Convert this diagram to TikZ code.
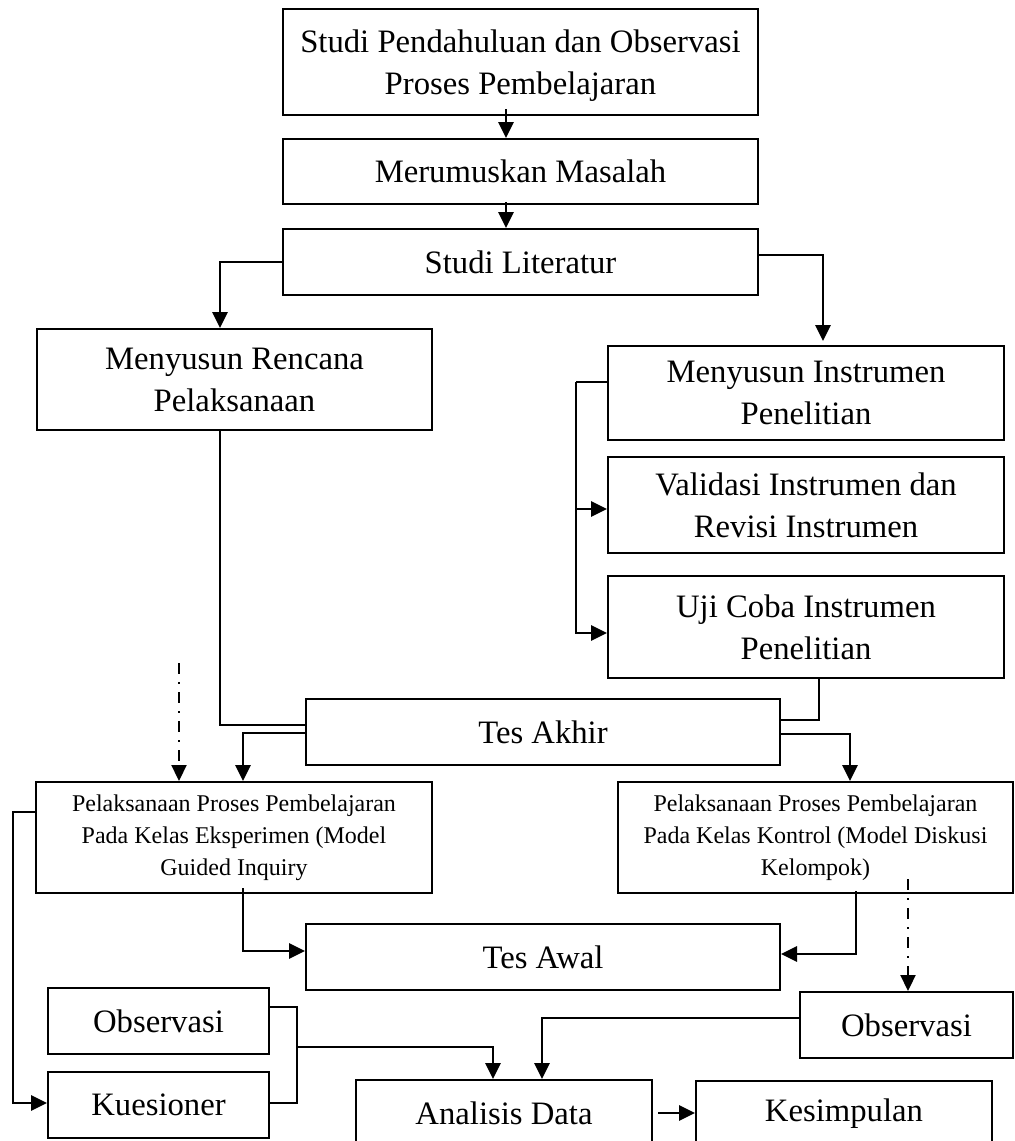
\documentclass[tikz,border=0pt]{standalone}
\usepackage{fontspec}
\setmainfont{Liberation Serif}
\usetikzlibrary{arrows.meta}
\begin{document}
\begin{tikzpicture}[x=1pt,y=-1pt,
  box/.style={draw,line width=2pt,inner sep=0pt,align=center,font=\fontsize{32.7}{42}\selectfont},
  lowtext/.style={text depth=0pt},
  sbox/.style={box,font=\fontsize{24}{32}\selectfont},
  arr/.style={line width=2.8pt,-{Triangle[length=16pt,width=15pt]}},
  thinline/.style={line width=1.7pt},
  dd/.style={line width=2.2pt,dash pattern=on 11pt off 8pt on 2pt off 8pt,-{Triangle[length=16pt,width=15pt]}}]
\useasboundingbox (0,0) rectangle (1015,1141);
\node[box,lowtext,minimum width=475pt,minimum height=106pt] (s1) at (520.5,62) {Studi Pendahuluan dan Observasi\\Proses Pembelajaran};
\node[box,minimum width=475pt,minimum height=65pt] (s2) at (520.5,171.5) {Merumuskan Masalah};
\node[box,minimum width=475pt,minimum height=66pt] (s3) at (520.5,262) {Studi Literatur};
\node[box,lowtext,minimum width=395pt,minimum height=101pt] (ren) at (234.5,379.5) {Menyusun Rencana\\Pelaksanaan};
\node[box,lowtext,minimum width=396pt,minimum height=94pt] (ins) at (806,393) {Menyusun Instrumen\\Penelitian};
\node[box,lowtext,minimum width=396pt,minimum height=96pt] (val) at (806,505) {Validasi Instrumen dan\\Revisi Instrumen};
\node[box,minimum width=396pt,minimum height=102pt] (uji) at (806,627) {Uji Coba Instrumen\\Penelitian};
\node[box,minimum width=474pt,minimum height=66pt] (akh) at (543,732) {Tes Akhir};
\node[sbox,minimum width=396pt,minimum height=111pt] (eks) at (234,837.5) {Pelaksanaan Proses Pembelajaran\\Pada Kelas Eksperimen (Model\\Guided Inquiry};
\node[sbox,minimum width=395pt,minimum height=111pt] (kon) at (815.5,837.5) {Pelaksanaan Proses Pembelajaran\\Pada Kelas Kontrol (Model Diskusi\\Kelompok)};
\node[box,minimum width=474pt,minimum height=66pt] (awa) at (543,957) {Tes Awal};
\node[box,minimum width=221pt,minimum height=66pt] (obl) at (158.5,1021) {Observasi};
\node[box,minimum width=221pt,minimum height=66pt] (kue) at (158.5,1105) {Kuesioner};
\node[box,minimum width=213pt,minimum height=66pt] (obr) at (906.5,1025) {Observasi};
\node[box,minimum width=296pt,minimum height=66pt] (ana) at (504,1113) {Analisis Data};
\node[box,minimum width=296pt,minimum height=66pt] (kes) at (844,1114) {Kesimpulan};
% top chain
\draw[arr] ([xshift=-14.5pt,yshift=7pt]s1.south) -- ([xshift=-14.5pt]s2.north);
\draw[arr] ([xshift=-14.5pt,yshift=3pt]s2.south) -- ([xshift=-14.5pt]s3.north);
\draw[arr] (s3.west) -| ([xshift=-14.5pt]ren.north);
\draw[arr] ([yshift=7pt]s3.east) -| ([xshift=17pt,yshift=4pt]ins.north);
% instrument bracket
\draw[thinline] ([yshift=11pt]ins.west) -- ++(-31pt,0) coordinate (b1);
\draw[arr] (b1) |- ([yshift=-6pt]uji.west);
\draw[arr] (b1 |- 0,509) -- (val.west |- 0,509);
% into Tes Akhir
\draw[thinline] ([xshift=-14.5pt]ren.south) |- ([yshift=7pt]akh.west);
\draw[thinline] ([xshift=13pt]uji.south) |- ([yshift=12pt]akh.east);
% Tes Akhir out
\draw[arr] ([yshift=-1pt]akh.west) -| ([xshift=9pt]eks.north);
\draw[arr] ([yshift=-2pt]akh.east) -| ([xshift=34.5pt]kon.north);
\coordinate (dd1) at (179,663);
\draw[dd] (dd1) -- (eks.north -| dd1);
% to Tes Awal
\draw[arr] ([xshift=9pt,yshift=6pt]eks.south) |- ([yshift=6pt]awa.west);
\draw[arr] ([xshift=40.5pt,yshift=3pt]kon.south) |- ([yshift=3pt]awa.east);
\coordinate (dd2) at (908,879);
\draw[dd] (dd2) -- (obr.north -| dd2);
% eksperimen to kuesioner
\draw[arr] ([yshift=25.5pt]eks.west) -- ++(-22pt,0) |- ([yshift=2pt]kue.west);
% observasi / kuesioner bracket
\draw[thinline] ([yshift=14pt]obl.east) -- ++(27pt,0) coordinate (b2) |- ([yshift=2pt]kue.east);
\coordinate (b3) at (b2 |- 0,1047);
\draw[arr] (b3) -| ([xshift=-11pt]ana.north);
\draw[arr] ([yshift=7pt]obr.west) -| ([xshift=38pt]ana.north);
\draw[arr] ([xshift=5pt]ana.east) -- (kes.west |- ana.east);
\end{tikzpicture}
\end{document}
